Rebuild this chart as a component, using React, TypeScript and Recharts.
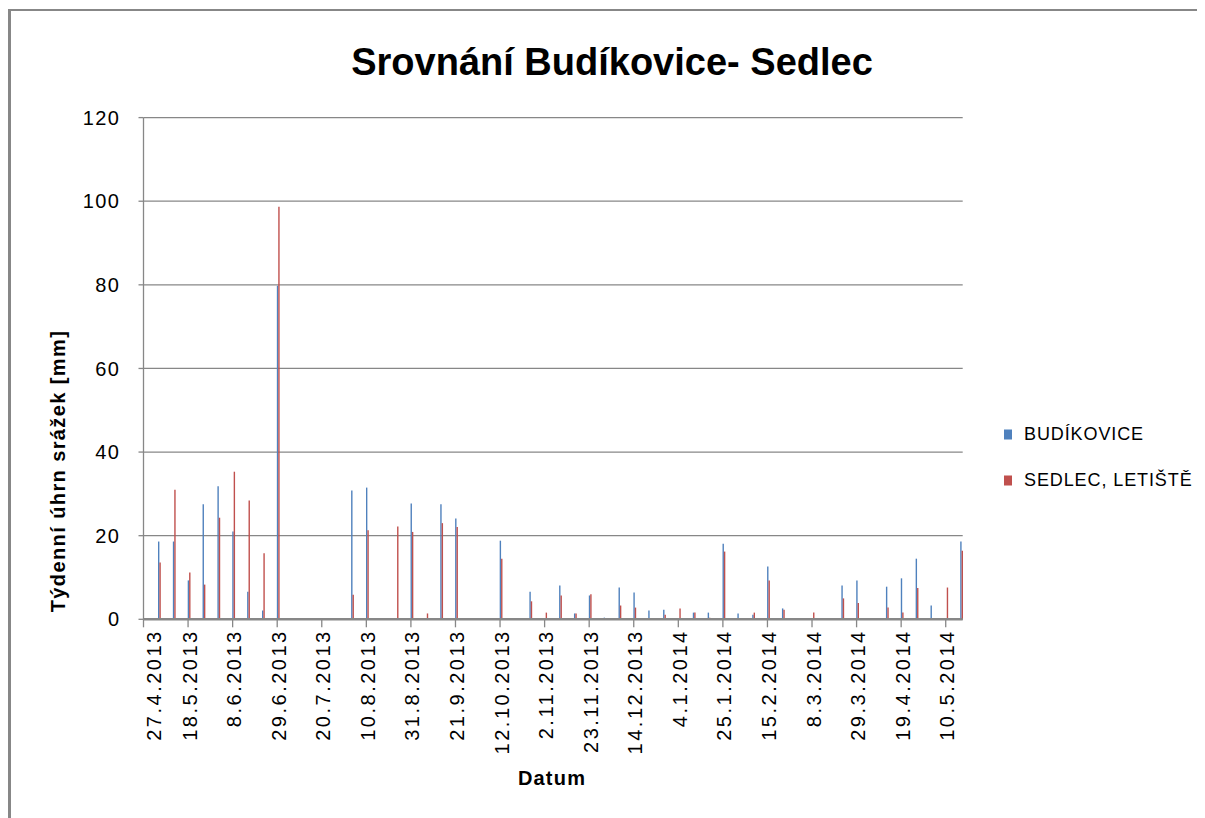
import React from "react";
import { Bar, BarChart, CartesianGrid, XAxis, YAxis } from "recharts";

const BLUE = "#4F81BD";
const RED = "#C0504D";
const GRID = "#878787";
const FONT = "'Liberation Sans', Arial, sans-serif";

// weekly totals, one entry per week
const weekDates = [
  "4.5.2013", "11.5.2013", "18.5.2013", "25.5.2013", "1.6.2013", "8.6.2013", "15.6.2013", "22.6.2013",
  "29.6.2013", "6.7.2013", "13.7.2013", "20.7.2013", "27.7.2013", "3.8.2013", "10.8.2013", "17.8.2013",
  "24.8.2013", "31.8.2013", "7.9.2013", "14.9.2013", "21.9.2013", "28.9.2013", "5.10.2013", "12.10.2013",
  "19.10.2013", "26.10.2013", "2.11.2013", "9.11.2013", "16.11.2013", "23.11.2013", "30.11.2013", "7.12.2013",
  "14.12.2013", "21.12.2013", "28.12.2013", "4.1.2014", "11.1.2014", "18.1.2014", "25.1.2014", "1.2.2014",
  "8.2.2014", "15.2.2014", "22.2.2014", "1.3.2014", "8.3.2014", "15.3.2014", "22.3.2014", "29.3.2014",
  "5.4.2014", "12.4.2014", "19.4.2014", "26.4.2014", "3.5.2014", "10.5.2014", "17.5.2014"
];

const budikovice = [
  18.6, 18.6, 9.3, 27.5, 31.8, 21.0, 6.6, 2.1, 79.8, 0, 0, 0, 0, 30.8, 31.5, 0,
  0, 27.7, 0, 27.5, 24.1, 0, 0, 18.8, 0, 6.6, 0, 8.1, 1.4, 5.7, 0.4, 7.6,
  6.4, 2.1, 2.3, 0, 1.6, 1.6, 18.1, 1.4, 1.1, 12.6, 2.6, 0, 0, 0, 8.1, 9.3,
  0, 7.8, 9.8, 14.5, 3.3, 0, 18.6
];

const sedlec = [
  13.6, 31.0, 11.2, 8.3, 24.3, 35.3, 28.4, 15.8, 98.7, 0, 0, 0, 0, 5.9, 21.3, 0,
  22.2, 20.9, 1.4, 23.0, 22.1, 0, 0, 14.5, 0, 4.3, 1.6, 5.7, 1.4, 6.0, 0, 3.3,
  2.8, 0, 1.1, 2.6, 1.6, 0.4, 16.2, 0.3, 1.6, 9.3, 2.3, 0, 1.6, 0, 5.0, 3.9,
  0, 2.8, 1.6, 7.5, 0.2, 7.6, 16.4
];

const tickLabels = [
  "27.4.2013", "18.5.2013", "8.6.2013", "29.6.2013", "20.7.2013", "10.8.2013", "31.8.2013",
  "21.9.2013", "12.10.2013", "2.11.2013", "23.11.2013", "14.12.2013", "4.1.2014", "25.1.2014",
  "15.2.2014", "8.3.2014", "29.3.2014", "19.4.2014", "10.5.2014"
];

const yTicks = [0, 20, 40, 60, 80, 100, 120];

const START = Date.UTC(2013, 3, 27);

function dayOf(label: string) {
  const [d, m, y] = label.split(".").map(Number);
  return Math.round((Date.UTC(y, m - 1, d) - START) / 86400000);
}

const data = weekDates.map((date, i) => ({
  day: dayOf(date) + 0.5,
  budikovice: budikovice[i],
  sedlec: sedlec[i]
}));

const xTicks = tickLabels.map(dayOf);

function DateTick({ x, y, payload, index }: any) {
  const label = tickLabels[xTicks.indexOf(payload.value)] ?? "";
  const shift = index === 0 ? 11 : 1.5;
  return (
    <text
      x={x + shift}
      y={y}
      transform={`rotate(-90, ${x + shift}, ${y})`}
      textAnchor="end"
      dy="0.35em"
      fontSize={20}
      letterSpacing={2.5}
      fontFamily={FONT}
      fill="#000"
    >
      {label}
    </text>
  );
}

// page coords -> wrapper coords (body margin is 8px)
const at = (x: number, y: number) => ({ position: "absolute" as const, left: x - 8, top: y - 8 });

export default function App() {
  return (
    <div style={{ position: "relative", width: 1197, height: 810, fontFamily: FONT, background: "#fff" }}>
      <div style={{ position: "absolute", left: 0, top: 1, width: 3, height: 809, background: GRID }} />
      <div style={{ position: "absolute", left: 0, top: 1, width: 1197, height: 2, background: GRID }} />

      <div
        style={{
          ...at(612, 62),
          transform: "translate(-50%, -50%)",
          fontSize: 38,
          fontWeight: "bold",
          whiteSpace: "nowrap"
        }}
      >
        Srovnání Budíkovice- Sedlec
      </div>

      <BarChart
        width={1197}
        height={810}
        data={data}
        barGap={0}
        margin={{ top: 109.6, right: 242.3, left: 75.5, bottom: 68.7 }}
        style={{ position: "absolute", left: 0, top: 0 }}
      >
        <CartesianGrid vertical={false} stroke={GRID} strokeWidth={1.3} />
        <XAxis
          dataKey="day"
          type="number"
          domain={[0, 386]}
          ticks={xTicks}
          interval={0}
          height={130}
          axisLine={{ stroke: GRID, strokeWidth: 2.5 }}
          tickLine={{ stroke: GRID, strokeWidth: 1.3 }}
          tickSize={8}
          tick={<DateTick />}
        />
        <YAxis
          domain={[0, 120]}
          ticks={yTicks}
          width={60}
          axisLine={{ stroke: GRID, strokeWidth: 1.3 }}
          tickLine={{ stroke: GRID, strokeWidth: 1.3 }}
          tickSize={5}
          tickMargin={18}
          tick={{ fontSize: 20, fill: "#000", fontFamily: FONT, letterSpacing: 1.5 }}
        />
        <Bar dataKey="budikovice" name="BUDÍKOVICE" fill={BLUE} barSize={1.4} isAnimationActive={false} />
        <Bar dataKey="sedlec" name="SEDLEC, LETIŠTĚ" fill={RED} barSize={1.4} isAnimationActive={false} />
      </BarChart>

      <div
        style={{
          ...at(58, 471),
          transform: "translate(-50%, -50%) rotate(-90deg)",
          fontSize: 20,
          fontWeight: "bold",
          whiteSpace: "nowrap",
          letterSpacing: 1.4
        }}
      >
        Týdenní úhrn srážek [mm]
      </div>

      <div
        style={{
          ...at(552, 778),
          transform: "translate(-50%, -50%)",
          fontSize: 20,
          fontWeight: "bold",
          letterSpacing: 1.2
        }}
      >
        Datum
      </div>

      {[
        { label: "BUDÍKOVICE", color: BLUE, y: 434 },
        { label: "SEDLEC, LETIŠTĚ", color: RED, y: 480 }
      ].map((item) => (
        <div key={item.label} style={{ ...at(1004, item.y), display: "flex", alignItems: "center", transform: "translateY(-50%)" }}>
          <span style={{ width: 8, height: 10, background: item.color, marginRight: 12 }} />
          <span style={{ fontSize: 18, letterSpacing: 0.9, whiteSpace: "nowrap" }}>{item.label}</span>
        </div>
      ))}
    </div>
  );
}
